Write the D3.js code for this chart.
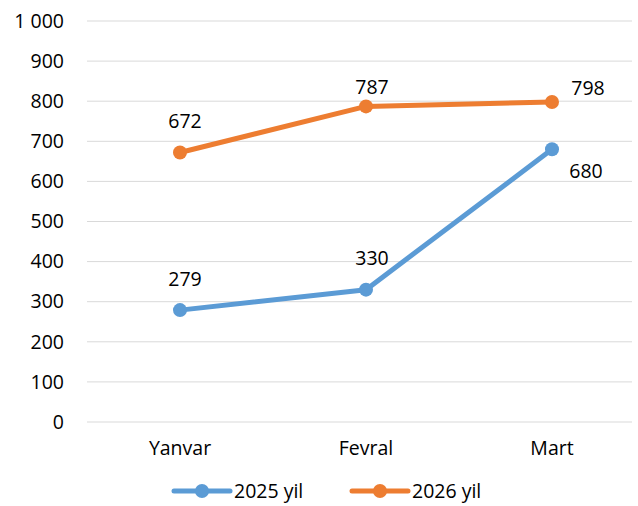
<!DOCTYPE html>
<html>
<head>
<script src="https://d3js.org/d3.v7.min.js"></script>
<style>
  body { margin: 0; background: #fff; }
  text { font-family: "Open Sans", "Noto Sans", sans-serif; fill: #000; }
</style>
</head>
<body>
<svg id="chart"></svg>
<script>
const categories = ["Yanvar", "Fevral", "Mart"];
const seriesNames = ["2025 yil", "2026 yil"];
const values2025 = [279, 330, 680];
const values2026 = [672, 787, 798];
const yTicks = [0, 100, 200, 300, 400, 500, 600, 700, 800, 900, 1000];

const width = 638, height = 506;
const colors = ["#5B9BD5", "#ED7D31"];
const fs = "19.5px";

// label offsets (dx, dy) per point
const labelPos = [
  [[5, -31], [6, -31], [34, 22]],
  [[5, -31], [6, -19], [36, -14]]
];

const svg = d3.select("#chart").attr("width", width).attr("height", height);

const x = d3.scaleBand().domain(categories).range([87, 645]);
const y = d3.scaleLinear().domain([0, 1000]).range([422, 21]);

const fmt = v => d3.format(",")(v).replace(/,/g, " ");

// grid
svg.append("g").selectAll("line").data(yTicks).join("line")
  .attr("x1", 87).attr("x2", 632)
  .attr("y1", d => y(d)).attr("y2", d => y(d))
  .attr("stroke", "#D9D9D9").attr("stroke-width", 1);

// y axis
const yAxis = svg.append("g").attr("transform", "translate(64,0)")
  .call(d3.axisLeft(y).tickValues(yTicks).tickFormat(fmt).tickSize(0).tickPadding(0));
yAxis.select(".domain").remove();
yAxis.selectAll("text").style("font-size", fs).style("font-family", "'Open Sans', sans-serif");

// x axis
const xAxis = svg.append("g").attr("transform", "translate(0,422)")
  .call(d3.axisBottom(x).tickSize(0).tickPadding(19));
xAxis.select(".domain").remove();
xAxis.selectAll("text").style("font-size", fs).style("font-family", "'Open Sans', sans-serif");

const series = [values2025, values2026];
const line = d3.line().x((d, i) => x(categories[i]) + x.bandwidth() / 2).y(d => y(d));

series.forEach((vals, s) => {
  const g = svg.append("g");
  g.append("path").datum(vals).attr("d", line)
    .attr("fill", "none").attr("stroke", colors[s]).attr("stroke-width", 5)
    .attr("stroke-linejoin", "round").attr("stroke-linecap", "round");
  g.selectAll("circle").data(vals).join("circle")
    .attr("cx", (d, i) => x(categories[i]) + x.bandwidth() / 2)
    .attr("cy", d => y(d)).attr("r", 7).attr("fill", colors[s]);
  g.selectAll("text.lbl").data(vals).join("text").attr("class", "lbl")
    .attr("x", (d, i) => x(categories[i]) + x.bandwidth() / 2 + labelPos[s][i][0])
    .attr("y", (d, i) => y(d) + labelPos[s][i][1])
    .attr("text-anchor", "middle").attr("dy", "0.35em")
    .style("font-size", fs)
    .text(d => d);
});

// legend
const legendX = [174, 352];
seriesNames.forEach((name, s) => {
  const lg = svg.append("g").attr("transform", `translate(${legendX[s]},491)`);
  lg.append("line").attr("x1", 0).attr("x2", 56).attr("y1", 0).attr("y2", 0)
    .attr("stroke", colors[s]).attr("stroke-width", 5).attr("stroke-linecap", "round");
  lg.append("circle").attr("cx", 28).attr("cy", 0).attr("r", 7).attr("fill", colors[s]);
  lg.append("text").attr("x", 60).attr("y", 0).attr("dy", "0.35em")
    .style("font-size", fs).text(name);
});
</script>
</body>
</html>
